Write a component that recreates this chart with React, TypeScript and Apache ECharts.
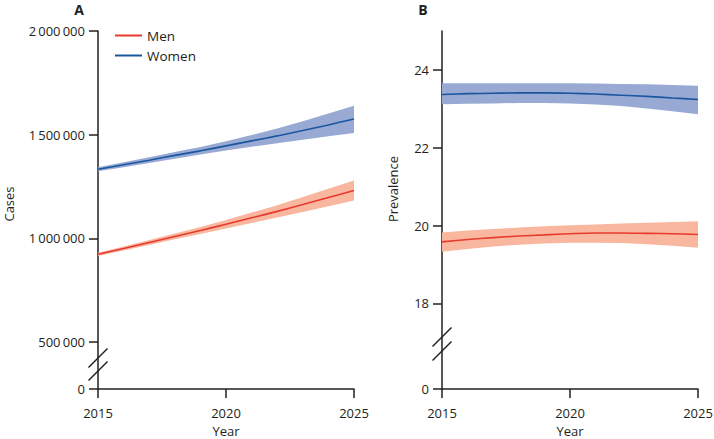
import React, { useEffect, useRef } from "react";
import * as echarts from "echarts";

const years = [2015, 2016, 2017, 2018, 2019, 2020, 2021, 2022, 2023, 2024, 2025];

// Panel A – cases
const menCases = [923000, 951000, 980000, 1009000, 1038000, 1068000, 1099000, 1130000, 1163000, 1197000, 1231000];
const menCasesLow = [915000, 941000, 968000, 995000, 1021000, 1048000, 1074000, 1100000, 1127000, 1155000, 1183000];
const menCasesHigh = [931000, 961000, 992000, 1023000, 1055000, 1088000, 1124000, 1160000, 1199000, 1239000, 1279000];
const womenCases = [1333000, 1355000, 1377000, 1400000, 1422000, 1446000, 1470000, 1494000, 1520000, 1547000, 1576000];
const womenCasesLow = [1323000, 1343000, 1363000, 1384000, 1404000, 1424000, 1442000, 1458000, 1475000, 1492000, 1508000];
const womenCasesHigh = [1343000, 1367000, 1391000, 1416000, 1440000, 1468000, 1498000, 1530000, 1565000, 1602000, 1640000];

// Panel B – prevalence
const menPrev = [19.58, 19.64, 19.69, 19.73, 19.76, 19.79, 19.81, 19.81, 19.8, 19.79, 19.77];
const menPrevLow = [19.33, 19.4, 19.46, 19.51, 19.54, 19.56, 19.56, 19.55, 19.52, 19.48, 19.43];
const menPrevHigh = [19.82, 19.87, 19.91, 19.95, 19.98, 20.01, 20.03, 20.05, 20.07, 20.09, 20.11];
const womenPrev = [23.37, 23.39, 23.4, 23.41, 23.41, 23.4, 23.38, 23.35, 23.32, 23.28, 23.24];
const womenPrevLow = [23.12, 23.13, 23.14, 23.15, 23.15, 23.14, 23.11, 23.07, 23.01, 22.94, 22.86];
const womenPrevHigh = [23.66, 23.66, 23.66, 23.66, 23.66, 23.66, 23.65, 23.64, 23.63, 23.61, 23.59];

// Tick labels
const xTicks = [2015, 2020, 2025];
const yTicksA = [0, 500000, 1000000, 1500000, 2000000];
const yTicksB = [0, 18, 20, 22, 24];

// broken axes: where "0" sits on the (linear) scale
const BREAK_A = 273300;
const BREAK_B = 15.8;
const MAX_A = 2000000;
const MAX_B = 25;

const FONT = "'Open Sans', 'Noto Sans', sans-serif";
const AXIS_COLOR = "#231f20";
const MEN_LINE = "#e63a2c";
const MEN_BAND = "#f9b7a0";
const WOMEN_LINE = "#1a56a0";
const WOMEN_BAND = "#98aad4";

const fmtThousands = (v: number) =>
  String(Math.round(v)).replace(/\B(?=(\d{3})+(?!\d))/g, "\u2009");

function pairs(ys: number[]) {
  return years.map((y, i) => [y, ys[i]]);
}

function bandSeries(idx: number, lo: number[], hi: number[], color: string) {
  return {
    type: "custom",
    xAxisIndex: idx,
    yAxisIndex: idx,
    silent: true,
    z: 1,
    data: years.map((y, i) => [y, lo[i], hi[i]]),
    renderItem: (params: any, api: any) => {
      if (params.dataIndex !== 0) return null;
      const upper = years.map((y, i) => api.coord([y, hi[i]]));
      const lower = years.map((y, i) => api.coord([y, lo[i]])).reverse();
      return {
        type: "polygon",
        shape: { points: upper.concat(lower) },
        style: { fill: color, stroke: "none" },
      };
    },
  };
}

function lineSeries(idx: number, name: string, ys: number[], color: string) {
  return {
    type: "line",
    name,
    xAxisIndex: idx,
    yAxisIndex: idx,
    data: pairs(ys),
    symbol: "none",
    smooth: 0.3,
    color,
    lineStyle: { color, width: 1.6 },
    z: 3,
  };
}

function xAxis(gridIndex: number) {
  return {
    type: "value",
    gridIndex,
    min: 2015,
    max: 2025,
    interval: 5,
    name: "Year",
    nameLocation: "middle",
    nameGap: 35,
    nameTextStyle: { fontFamily: FONT, fontSize: 13, color: AXIS_COLOR },
    axisLine: { show: true, lineStyle: { color: AXIS_COLOR, width: 1.5 } },
    axisTick: { show: true, length: 9, inside: false, lineStyle: { color: AXIS_COLOR, width: 1.5 }, customValues: xTicks },
    axisLabel: { fontFamily: FONT, fontSize: 13, color: AXIS_COLOR, margin: 17, customValues: xTicks, formatter: (v: number) => String(v) },
    splitLine: { show: false },
  };
}

function yAxis(gridIndex: number, ticks: number[], breakPos: number, max: number, fmt: (v: number) => string) {
  const pos = ticks.map((t) => (t === 0 ? breakPos : t));
  return {
    type: "value",
    gridIndex,
    min: breakPos,
    max,
    axisLine: { show: true, lineStyle: { color: AXIS_COLOR, width: 1.5 } },
    axisTick: { show: true, length: 9, lineStyle: { color: AXIS_COLOR, width: 1.5 }, customValues: pos },
    axisLabel: {
      fontFamily: FONT,
      fontSize: 13,
      color: AXIS_COLOR,
      margin: 13,
      customValues: pos,
      formatter: (v: number) => (Math.abs(v - breakPos) < 1e-9 ? "0" : fmt(v)),
    },
    splitLine: { show: false },
  };
}

function breakMarks(cx: number, cy1: number, cy2: number) {
  const h = 9.5;
  return [cy1, cy2].map((cy) => ({
    type: "line",
    shape: { x1: cx - h, y1: cy + h, x2: cx + h, y2: cy - h },
    style: { stroke: AXIS_COLOR, lineWidth: 1.5 },
    z: 10,
  }));
}

export default function App() {
  const ref = useRef<HTMLDivElement>(null);
  useEffect(() => {
    if (!ref.current) return;
    const chart = echarts.init(ref.current, undefined, { renderer: "svg" });
    chart.setOption({
      animation: false,
      backgroundColor: "#ffffff",
      textStyle: { fontFamily: FONT },
      grid: [
        { left: 98, top: 31, width: 256, height: 358, containLabel: false, outerBoundsMode: "none" },
        { left: 442, top: 31, width: 256, height: 358, containLabel: false, outerBoundsMode: "none" },
      ],
      xAxis: [xAxis(0), xAxis(1)],
      yAxis: [
        yAxis(0, yTicksA, BREAK_A, MAX_A, fmtThousands),
        yAxis(1, yTicksB, BREAK_B, MAX_B, (v) => String(v)),
      ],
      legend: {
        data: ["Men", "Women"],
        orient: "vertical",
        left: 115,
        top: 28,
        padding: 0,
        icon: "rect",
        itemWidth: 27,
        itemHeight: 2,
        itemGap: 5,
        textStyle: { fontFamily: FONT, fontSize: 13.5, color: AXIS_COLOR, lineHeight: 15 },
        selectedMode: false,
      },
      graphic: [
        { type: "text", x: 79, y: 9, style: { text: "A", font: `bold 14px ${FONT}`, fill: AXIS_COLOR, textAlign: "center", textVerticalAlign: "middle" } },
        { type: "text", x: 423, y: 9, style: { text: "B", font: `bold 14px ${FONT}`, fill: AXIS_COLOR, textAlign: "center", textVerticalAlign: "middle" } },
        { type: "text", x: 9, y: 204, rotation: Math.PI / 2, style: { text: "Cases", font: `13px ${FONT}`, fill: AXIS_COLOR, textAlign: "center", textVerticalAlign: "middle" } },
        { type: "text", x: 393, y: 189, rotation: Math.PI / 2, style: { text: "Prevalence", font: `13px ${FONT}`, fill: AXIS_COLOR, textAlign: "center", textVerticalAlign: "middle" } },
        ...breakMarks(98, 358, 371),
        ...breakMarks(442, 337, 351),
      ],
      series: [
        bandSeries(0, menCasesLow, menCasesHigh, MEN_BAND),
        bandSeries(0, womenCasesLow, womenCasesHigh, WOMEN_BAND),
        lineSeries(0, "Men", menCases, MEN_LINE),
        lineSeries(0, "Women", womenCases, WOMEN_LINE),
        bandSeries(1, menPrevLow, menPrevHigh, MEN_BAND),
        bandSeries(1, womenPrevLow, womenPrevHigh, WOMEN_BAND),
        lineSeries(1, "Men ", menPrev, MEN_LINE),
        lineSeries(1, "Women ", womenPrev, WOMEN_LINE),
      ],
    });
    return () => chart.dispose();
  }, []);
  return <div ref={ref} style={{ position: "fixed", left: 0, top: 0, width: 714, height: 439 }} />;
}
